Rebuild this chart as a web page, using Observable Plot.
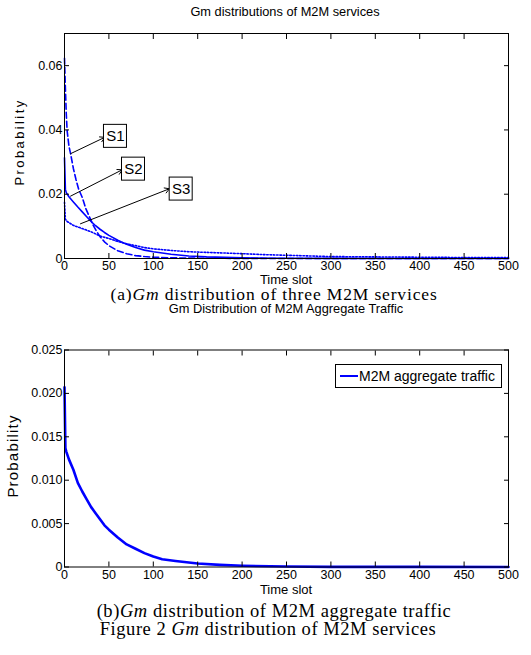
<!DOCTYPE html>
<html><head><meta charset="utf-8">
<script src="https://cdn.jsdelivr.net/npm/d3@7"></script>
<script src="https://cdn.jsdelivr.net/npm/@observablehq/plot@0.6"></script>
<style>
body{margin:0;background:#fff;}
#wrap{position:relative;width:531px;height:655px;overflow:hidden;font-family:"Liberation Sans Narrow","Liberation Sans",Arial,sans-serif;color:#000;}
#wrap svg{position:absolute;left:0;}
.abs{position:absolute;white-space:nowrap;transform:translate(-50%,-50%);line-height:0.8;}
.title{font-size:12.8px;}
.xl{font-size:13px;}
.cap{font-family:"Liberation Serif","Times New Roman",serif;font-size:18.5px;letter-spacing:0.55px;}
.cap.a{font-size:17.5px;letter-spacing:0.85px;}
.yl{font-size:14px;transform:translate(-50%,-50%) rotate(-90deg);}
.yl.sp{font-size:13px;letter-spacing:2.4px;}
.yl.np{font-size:15px;letter-spacing:1.2px;}
#legend{position:absolute;left:335px;top:364px;width:165px;height:22px;border:1px solid #000;background:#fff;display:flex;align-items:center;font-size:14px;white-space:nowrap;}
#legend .sw{display:inline-block;width:18px;height:2.5px;background:#0000ff;margin:0 1px 0 4px;}
</style>
</head><body><div id="wrap"></div>
<script>
// ---- data ----
const xTicks = [0, 50, 100, 150, 200, 250, 300, 350, 400, 450, 500];
const yTicksA = [0, 0.02, 0.04, 0.06];
const yTicksB = [0, 0.005, 0.010, 0.015, 0.020, 0.025];

const timeS1 = [0, 1, 2, 3, 5, 7, 10, 13, 16, 20, 24, 28, 32, 36, 40, 45, 50, 60, 70, 80, 90, 100, 120, 150, 200, 300, 400, 500];
const probS1 = [0.0623, 0.053, 0.045, 0.0396, 0.035, 0.0324, 0.028, 0.0245, 0.0215, 0.019, 0.0155, 0.013, 0.0105, 0.0085, 0.0068, 0.0052, 0.004, 0.0024, 0.0015, 0.0009, 0.0006, 0.0004, 0.0002, 0.0001, 0.00003, 0, 0, 0];

const timeS2 = [0, 1, 2, 5, 10, 15, 20, 25, 30, 35, 40, 45, 50, 60, 70, 80, 90, 100, 120, 140, 160, 200, 250, 300, 400, 500];
const probS2 = [0.0313, 0.0215, 0.0205, 0.0192, 0.0176, 0.016, 0.0145, 0.013, 0.0115, 0.0102, 0.0091, 0.0081, 0.0072, 0.0057, 0.0044, 0.0034, 0.0026, 0.0021, 0.0013, 0.0008, 0.0005, 0.0002, 0.0001, 0.00005, 0.00002, 0.00001];

const timeS3 = [0, 1, 3, 10, 20, 30, 40, 50, 60, 70, 80, 90, 100, 120, 140, 160, 180, 200, 225, 250, 275, 300, 350, 400, 450, 500];
const probS3 = [0.0175, 0.0122, 0.0115, 0.0103, 0.0093, 0.0083, 0.007, 0.0062, 0.0053, 0.0046, 0.004, 0.0034, 0.003, 0.0025, 0.0021, 0.0019, 0.0017, 0.0015, 0.0012, 0.001, 0.0008, 0.0006, 0.0005, 0.0004, 0.0003, 0.0003];

const timeAgg = [0, 1, 2, 5, 10, 15, 20, 25, 30, 35, 40, 45, 50, 60, 70, 80, 90, 100, 110, 125, 150, 175, 200, 250, 300, 400, 500];
const probAgg = [0.0207, 0.0137, 0.0133, 0.0124, 0.0112, 0.0097, 0.0087, 0.0078, 0.0069, 0.0062, 0.0055, 0.0048, 0.0043, 0.0034, 0.0026, 0.0021, 0.0016, 0.0012, 0.0009, 0.0007, 0.0004, 0.00025, 0.00015, 0.00005, 0.00002, 0.00001, 0];

// annotations (S1, S2, S3): arrow tail on curve, arrow head, label box centre
const annLabels = ["S1", "S2", "S3"];
const annTailX = [6.8, 6.8, 18];
const annTailY = [0.0326, 0.0194, 0.0108];
const annHeadX = [45.4, 65, 118.2];
const annHeadY = [0.0377, 0.0276, 0.0217];
const annBoxX = [57.4, 77.7, 131.4];
const annBoxY = [0.038, 0.0278, 0.0216];

// ---- build ----
const blue = "#0000ff";
const font = '"Liberation Sans Narrow","Liberation Sans",Arial,sans-serif';
const toRows = (ts, ps) => ts.map((t, i) => ({t, p: ps[i]}));
const s1 = toRows(timeS1, probS1), s2 = toRows(timeS2, probS2), s3 = toRows(timeS3, probS3), agg = toRows(timeAgg, probAgg);
const ann = annLabels.map((label, i) => ({label, x1: annTailX[i], y1: annTailY[i], x2: annHeadX[i], y2: annHeadY[i], bx: annBoxX[i], by: annBoxY[i]}));

function axes(yTicks, fmt) {
  return [
    Plot.axisX(xTicks, {anchor: "bottom", tickSize: -5, tickPadding: 8, label: null, fontSize: 12.5, tickFormat: d => String(d)}),
    Plot.axisX(xTicks, {anchor: "top", tickSize: -5, label: null, tickFormat: () => ""}),
    Plot.axisY(yTicks, {anchor: "left", tickSize: -5, tickPadding: 7, label: null, fontSize: 12.5, tickFormat: fmt}),
    Plot.axisY(yTicks, {anchor: "right", tickSize: -5, label: null, tickFormat: () => ""}),
    Plot.frame({stroke: "black", strokeWidth: 1})
  ];
}

const wrap = document.getElementById("wrap");

const plotA = Plot.plot({
  width: 531, height: 270,
  marginLeft: 64, marginRight: 23, marginTop: 11, marginBottom: 34,
  x: {domain: [0, 500]},
  y: {domain: [0, 0.07]},
  style: {fontFamily: font, fontSize: "12.5px", background: "none", overflow: "visible"},
  marks: [
    Plot.line(s3, {x: "t", y: "p", stroke: blue, strokeWidth: 1.6, strokeDasharray: "1.5,1.8"}),
    Plot.line(s2, {x: "t", y: "p", stroke: blue, strokeWidth: 1.6}),
    Plot.line(s1, {x: "t", y: "p", stroke: blue, strokeWidth: 1.6, strokeDasharray: "6,3"}),
    Plot.arrow(ann, {x1: "x1", y1: "y1", x2: "x2", y2: "y2", stroke: "black", strokeWidth: 1, headLength: 8}),
    Plot.rect(ann, {x1: "bx", x2: "bx", y1: "by", y2: "by", inset: -11.5, fill: "white", stroke: "black", strokeWidth: 1}),
    Plot.text(ann, {x: "bx", y: "by", text: "label", fontSize: 15, fill: "black"}),
    ...axes(yTicksA, d => d === 0 ? "0" : d.toFixed(2))
  ]
});
plotA.style.top = "22px";
wrap.appendChild(plotA);

const plotB = Plot.plot({
  width: 531, height: 262,
  marginLeft: 64, marginRight: 23, marginTop: 19.5, marginBottom: 25.5,
  x: {domain: [0, 500]},
  y: {domain: [0, 0.025]},
  style: {fontFamily: font, fontSize: "12.5px", background: "none", overflow: "visible"},
  marks: [
    Plot.line(agg, {x: "t", y: "p", stroke: blue, strokeWidth: 2.6}),
    ...axes(yTicksB, d => d === 0 ? "0" : d.toFixed(3))
  ]
});
plotB.style.top = "330px";
wrap.appendChild(plotB);

function addText(cls, html, x, y) {
  const d = document.createElement("div");
  d.className = "abs " + cls;
  d.innerHTML = html;
  d.style.left = x + "px";
  d.style.top = y + "px";
  wrap.appendChild(d);
}
addText("title", "Gm distributions of M2M services", 285, 12);
addText("yl sp", "Probability", 20, 142);
addText("xl", "Time slot", 286, 279.5);
addText("cap a", "(a)<i>Gm</i> distribution of three M2M services", 274, 293.5);
addText("title", "Gm Distribution of M2M Aggregate Traffic", 286, 308.5);
addText("yl np", "Probability", 13, 456);
addText("xl", "Time slot", 286, 590);
addText("cap", "(b)<i>Gm</i> distribution of M2M aggregate traffic", 274, 610.5);
addText("cap", "Figure 2 <i>Gm</i> distribution of M2M services", 268, 629);

const lg = document.createElement("div");
lg.id = "legend";
lg.innerHTML = '<span class="sw"></span><span>M2M aggregate traffic</span>';
wrap.appendChild(lg);
</script></body></html>
